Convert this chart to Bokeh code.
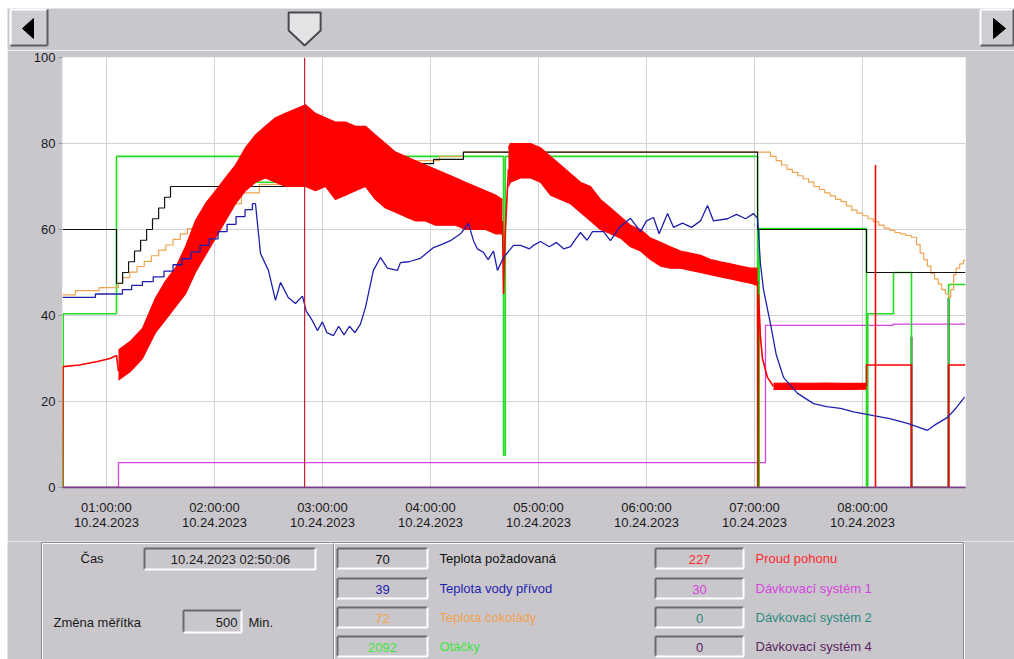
from bokeh.plotting import figure
from bokeh.layouts import column, row
from bokeh.models import Range1d, FixedTicker, Span, Spacer, ColumnDataSource
from bokeh.core.properties import value
from bokeh.embed import file_html
from bokeh.resources import INLINE

FONT = "Liberation Sans"
BG = "#c9c7cc"

# ---------------- data (time in minutes after midnight, values in % of scale) ----------------
x_start, x_end = 35.6, 537.2
tick_minutes = [60, 120, 180, 240, 300, 360, 420, 480]
tick_times = ["01:00:00", "02:00:00", "03:00:00", "04:00:00", "05:00:00", "06:00:00", "07:00:00", "08:00:00"]
tick_date = "10.24.2023"
y_ticks = [0, 20, 40, 60, 80, 100]
cursor_minute = 170.1
cursor_text = "10.24.2023 02:50:06"
scale_text = "500"

# Teplota požadovaná (step)
setpoint_t = [35.6, 65.6, 69.0, 72.3, 75.6, 79.0, 82.3, 85.6, 89.0, 92.3, 95.6, 201.1, 207.0, 227.2, 241.7, 258.3, 421.7, 482.2, 537.2]
setpoint_v = [60, 47.5, 50, 52.5, 55, 57.5, 60, 62.5, 65, 67.5, 70, 72, 73, 75.3, 76.3, 78, 60, 50, 50]

# Teplota vody přívod: staircase part (step) + free part (line)
water_ramp_t = [35.6, 53.9, 68.9, 74, 80, 86, 92, 97, 102, 107, 112, 117, 122, 127, 132, 137, 141.1, 142.8]
water_ramp_v = [44.2, 45, 46.0, 47.0, 47.9, 49.0, 50.3, 51.8, 53.2, 54.8, 56.3, 57.8, 59.5, 61.2, 63.0, 64.6, 66.0, 66.0]
water_t = [142.8, 145.6, 150, 153.9, 156.7, 161, 165, 168.9, 171, 174.4, 177.2, 180, 182.5, 186.1, 189, 192, 195, 198,
           201.1, 203.9, 208.3, 212.2, 216.1, 221.7, 223.3, 228, 234.4, 241.7, 246, 251.1, 256.7, 261.1, 263.9, 266,
           269.4, 272, 275, 277.2, 280.6, 286.1, 290, 295, 297.2, 301.1, 306, 310, 314, 317.8, 321, 323.3, 327, 330,
           336.1, 340, 345, 351.1, 356.7, 360, 363.9, 367, 371.7, 375, 380, 385, 390, 393.9, 397.2, 405, 410, 415,
           419.4, 421.7, 423.3, 425, 428.9, 432, 436.1, 443.9, 452.8, 460, 467.8, 475, 486.1, 495, 505, 516.1, 520,
           527.2, 532, 536.7]
water_v = [66.0, 54.4, 50.5, 43.5, 47.7, 44.2, 42.8, 44.5, 41, 38.8, 36.5, 38.5, 36, 35.3, 37.5, 35.5, 37.5, 36,
           38, 41.9, 50.5, 53.5, 51, 50.5, 52.3, 52.5, 53.3, 55.8, 56.5, 57.4, 59, 61.4, 57.4, 55.5,
           54.7, 53, 55, 50.5, 53.5, 56.3, 56.3, 55.5, 56.3, 57.2, 56, 57, 55.5, 56, 58, 59.3, 57.5, 59.5,
           59.5, 57.4, 60.5, 62.6, 59.5, 62, 62.8, 59, 63.7, 60.5, 61.5, 60.5, 62, 65.6, 62, 62.5, 63.5, 62.5,
           63.7, 62.6, 52, 46, 38, 31, 25.6, 21.9, 19.5, 18.8, 18.4, 17.6, 16.7, 16, 14.9, 13.3, 14.5,
           16.3, 18.5, 21]

# Teplota čokolády (step)
choco_t = [35.6, 42.8, 56, 66.7, 68.9, 73, 77, 81, 85, 89, 93, 97, 101, 105, 109, 113, 117, 125, 135, 145, 160,
           201, 215, 230, 245, 258.3, 428.9, 432, 435, 438, 441, 444, 447, 450, 453, 456, 459, 462, 465, 468, 471,
           474, 477, 480, 483, 486, 489, 492, 495, 498, 501, 504, 507, 510, 512, 514, 516, 518, 520, 522, 524, 526,
           527.8, 529, 530.6, 532, 534, 536, 537.2]
choco_v = [44.8, 45.8, 46.5, 47.5, 48.8, 50.1, 51.4, 52.6, 53.9, 55.2, 56.4, 57.7, 59, 60.2, 61.5, 62.8, 64, 66,
           68.5, 70.5, 71.5, 72, 74, 76, 77, 78, 77, 76, 75, 74, 73.3, 72.5, 71.8, 71, 70, 69.3, 68.5, 67.8, 67,
           66.5, 65.5, 64.5, 63.8, 63.2, 62.5, 61.8, 61, 60.3, 59.8, 59.3, 59, 58.6, 58.2, 56.5, 54.5, 53, 51.5,
           49.8, 48.5, 47.3, 46, 45, 44.2, 46, 49.5, 51, 52, 52.8, 52.8]

# Otáčky (step)
speed_t = [35.6, 36.0, 65.6, 141.1, 219.0, 280.6, 281.6, 421.7, 422.6, 482.2, 482.9, 497.2, 507.2, 527.8, 537.2]
speed_v = [0, 40.4, 77, 71, 77, 7.5, 77, 0, 60.2, 0, 40.4, 50, 0, 47.2, 47.2]

# Proud pohonu: quiet parts as lines, noisy parts as low/high envelopes
current_a_t = [35.6, 35.9, 45, 55, 62, 65.6, 66.7]
current_a_v = [0, 28.1, 28.5, 29.3, 30, 30.7, 27]
band1_t = [66.7, 73.3, 80.0, 87.2, 92.8, 98.3, 103.9, 109.4, 115.0, 120.6, 126.1, 131.7, 137.2, 142.8, 148.3,
           153.9, 159.4, 165.0, 170.6, 176.1, 181.7, 187.2, 192.8, 198.3, 203.9, 209.4, 215.0, 220.6, 226.1,
           231.7, 237.2, 242.8, 248.3, 253.9, 259.4, 265.0, 270.6, 276.1, 280.0]
band1_lo = [25, 27, 30, 36, 39, 42, 45, 50, 54, 58, 62, 66, 69, 71, 72, 71, 70, 70, 70, 69, 70, 67, 68, 69, 70,
            67, 65, 64, 63, 62, 62, 61, 61, 61, 60, 60, 60, 59, 59]
band1_hi = [32, 34, 37, 44, 48, 51, 56, 62, 66, 69, 72, 75, 79, 82, 84, 86, 87, 88, 89, 87, 86, 85, 85, 84, 84,
            82, 80, 78, 77, 76, 75, 74, 73, 72, 71, 70, 69, 68, 67]
current_b_t = [280.0, 280.6, 281.4, 283.3]
current_b_v = [62, 45, 58, 74]
band2_t = [283.3, 284.4, 290, 295.6, 301.1, 306.7, 312.2, 317.8, 323.3, 328.9, 334.4, 340, 345.6, 351.1, 356.7,
           362.2, 367.8, 373.3, 378.9, 384.4, 390, 395.6, 401.1, 406.7, 412.2, 417.8, 421.7]
band2_lo = [70, 71, 72, 72, 71, 68, 67, 66, 64, 62, 60, 59, 58, 56, 55, 53, 51.5, 51, 51, 50.5, 50, 49.5, 49,
            48.5, 48, 47.5, 47]
band2_hi = [79, 80, 80, 80, 79, 77, 75, 73, 71, 70, 67, 65, 63, 61, 60, 58, 57, 56, 55, 54.5, 54, 53, 52.5, 52,
            51.5, 51, 51]
current_c_t = [421.7, 421.9, 422.2, 423.3, 424.4, 427.2, 430.6]
current_c_v = [48, 0, 45, 35, 30, 25.6, 23.5]
band3_t = [430.6, 440, 450, 460, 470, 482.2]
band3_lo = [22.8, 22.9, 22.8, 22.9, 22.8, 22.9]
band3_hi = [24.2, 24.3, 24.2, 24.3, 24.2, 24.2]
current_d_t = [482.2, 482.2, 487.2, 487.2, 487.2, 487.2, 507.2, 507.2, 527.8, 527.8, 537.2]
current_d_v = [23.5, 28.5, 28.5, 0, 75, 28.5, 28.5, 0, 0, 28.5, 28.5]

# Dávkovací systém 1 / 2 / 4 (step)
dose1_t = [35.6, 66.7, 426.1, 497.0, 537.2]
dose1_v = [0, 5.8, 37.7, 38, 38]
dose2_t = [35.6, 537.2]
dose2_v = [0, 0]
dose4_t = [35.6, 507.0, 507.4, 527.6, 528.0, 537.2]
dose4_v = [0, 35, 0, 44, 0, 0]

series_names = ["Teplota požadovaná", "Teplota vody přívod", "Teplota čokolády", "Otáčky",
                "Proud pohonu", "Dávkovací systém 1", "Dávkovací systém 2", "Dávkovací systém 4"]
series_now = ["70", "39", "72", "2092", "227", "30", "0", "0"]

# ---------------- styles ----------------
C_SET = "#111111"
C_WATER = "#1f1fae"
C_CHOCO = "#f0a24e"
C_SPEED = "#22dd22"
C_CUR = "#ff0000"
C_D1 = "#d444dc"
C_D2 = "#2a8a80"
C_D4 = "#5a1e5e"
series_colors = [C_SET, C_WATER, C_CHOCO, "#3ee43e", "#ff2a2a", C_D1, C_D2, C_D4]

OFF_X, OFF_Y = 7, 8              # white page margin (left, top)
FR_L, FR_R, FR_T, FR_B = 62, 965, 57, 487   # plotting frame on the page
TOP_END, BOT_START = 50, 541     # page rows: top strip / chart / bottom panel

# ---------------- main chart ----------------
p = figure(width=1014 - OFF_X, height=BOT_START - TOP_END,
           x_range=Range1d(x_start, x_end), y_range=Range1d(0, 100),
           output_backend="svg", toolbar_location=None,
           min_border_left=FR_L - OFF_X, min_border_right=1014 - FR_R,
           min_border_top=FR_T - TOP_END, min_border_bottom=BOT_START - FR_B,
           background_fill_color="white", border_fill_color=BG, outline_line_color=None)

p.xaxis.ticker = FixedTicker(ticks=tick_minutes)
p.xaxis.major_label_overrides = {m: f"{t}\n{tick_date}" for m, t in zip(tick_minutes, tick_times)}
p.xaxis.major_tick_out = 0
p.xaxis.major_tick_in = 0
p.xaxis.minor_tick_out = 0
p.xaxis.minor_tick_in = 0
p.xaxis.major_label_standoff = 12
p.xaxis.major_label_text_line_height = 1.05
p.xaxis.axis_line_color = "#7a3f86"
p.xaxis.axis_line_width = 1.5
p.yaxis.ticker = FixedTicker(ticks=y_ticks)
p.yaxis.major_tick_out = 4
p.yaxis.major_tick_in = 0
p.yaxis.minor_tick_out = 0
p.yaxis.minor_tick_in = 0
p.yaxis.major_tick_line_color = "#9a9a9a"
p.yaxis.axis_line_color = None
p.yaxis.major_label_standoff = 3
for ax in (p.xaxis, p.yaxis):
    ax.major_label_text_font = FONT
    ax.major_label_text_font_size = "13px"
    ax.major_label_text_color = "#1a1a1a"
p.xgrid.ticker = FixedTicker(ticks=tick_minutes)
p.ygrid.ticker = FixedTicker(ticks=[20, 40, 60, 80, 100])
p.grid.grid_line_color = "#d2d2d2"
p.grid.grid_line_width = 1

p.step(dose2_t, dose2_v, mode="after", line_color=C_D2, line_width=1.2)
p.step(dose1_t, dose1_v, mode="after", line_color=C_D1, line_width=1.3)
p.step(dose4_t, dose4_v, mode="after", line_color=C_D4, line_width=1.3)
p.step(speed_t, speed_v, mode="after", line_color=C_SPEED, line_width=1.6)
p.step(choco_t, choco_v, mode="after", line_color=C_CHOCO, line_width=1.2)
p.step(setpoint_t, setpoint_v, mode="after", line_color=C_SET, line_width=1.2)

for bt, blo, bhi in ((band1_t, band1_lo, band1_hi), (band2_t, band2_lo, band2_hi), (band3_t, band3_lo, band3_hi)):
    p.varea(x=bt, y1=blo, y2=bhi, fill_color=C_CUR, fill_alpha=1.0)
    p.line(bt, blo, line_color=C_CUR, line_width=1.2)
    p.line(bt, bhi, line_color=C_CUR, line_width=1.2)
for lt, lv in ((current_a_t, current_a_v), (current_b_t, current_b_v), (current_c_t, current_c_v), (current_d_t, current_d_v)):
    p.line(lt, lv, line_color=C_CUR, line_width=1.6)

p.step(water_ramp_t, water_ramp_v, mode="after", line_color=C_WATER, line_width=1.3)
p.line(water_t, water_v, line_color=C_WATER, line_width=1.3)

p.add_layout(Span(location=cursor_minute, dimension="height", line_color="#c02030", line_width=1.2))


# ---------------- helpers for the window chrome (separate canvases in page pixels) ----------------
def chrome_figure(y_top, y_bottom):
    f = figure(width=1014 - OFF_X, height=y_bottom - y_top,
               x_range=Range1d(OFF_X, 1014), y_range=Range1d(y_bottom, y_top),
               output_backend="svg", toolbar_location=None, min_border=0,
               min_border_left=0, min_border_right=0, min_border_top=0, min_border_bottom=0,
               x_axis_location=None, y_axis_location=None,
               background_fill_color=BG, border_fill_color=BG, outline_line_color=None)
    f.grid.visible = False
    return f


def seg(f, xs0, ys0, xs1, ys1, color, lw=1.0):
    f.segment(x0=xs0, y0=ys0, x1=xs1, y1=ys1, line_color=color, line_width=lw)


def raised(f, x0, y0, x1, y1):
    f.quad(left=x0, right=x1, top=y0, bottom=y1, fill_color="#cfcdd2", line_color=None)
    seg(f, [x0, x0], [y0, y0], [x1, x0], [y0, y1], "white", 2)
    seg(f, [x0, x1], [y1, y0], [x1, x1], [y1, y1], "#5e5e62", 2)


def sunken(f, x0, y0, x1, y1):
    f.quad(left=x0, right=x1, top=y0, bottom=y1, fill_color=BG, line_color=None)
    seg(f, [x0, x0], [y0, y0], [x1, x0], [y0, y1], "#6a6a6e", 2)
    seg(f, [x0, x1], [y1, y0], [x1, x1], [y1, y1], "white", 2)


# ---------------- top strip: scroll buttons and cursor thumb ----------------
top = chrome_figure(OFF_Y, TOP_END)
raised(top, 10, 9, 47, 45)
top.patch([22, 33, 33], [28, 18, 38], fill_color="black", line_color="black")
raised(top, 980, 9, 1013, 45)
top.patch([1005, 993, 993], [28, 18, 38], fill_color="black", line_color="black")
cx = FR_L + (cursor_minute - x_start) / (x_end - x_start) * (FR_R - FR_L)
top.patch([cx - 16, cx + 16, cx + 16, cx, cx - 16], [12, 12, 30, 45, 30],
          fill_color="#e4e3e6", line_color="#4a4a4e", line_width=2)

# ---------------- bottom panel ----------------
bot = chrome_figure(BOT_START, 659)
seg(bot, [41, 41, 963], [542, 542, 542], [963, 41, 963], [542, 660, 660], "#8a888e")
seg(bot, [42, 42, 964], [543, 543, 543], [962, 42, 964], [543, 660, 660], "white")
seg(bot, [333], [543], [333], [660], "#8a888e")
seg(bot, [334], [543], [334], [660], "white")
sunken(bot, 144, 548, 315, 569)
sunken(bot, 183, 610, 241, 632)

txt = dict(x=[], y=[], text=[], color=[], align=[])


def add_text(x, y, s, color="#1a1a1a", align="left"):
    txt["x"].append(x); txt["y"].append(y); txt["text"].append(s)
    txt["color"].append(color); txt["align"].append(align)


add_text(80, 558, "Čas")
add_text(230, 559, cursor_text, align="center")
add_text(53, 622, "Změna měřítka")
add_text(237, 622, scale_text, align="right")
add_text(248, 622, "Min.")

row_tops = [548, 578, 607, 636]
for i, (name, now, colr) in enumerate(zip(series_names, series_now, series_colors)):
    c, r = divmod(i, 4)
    bx0, bx1 = (337, 427) if c == 0 else (655, 743)
    lx = 439 if c == 0 else 755
    y0 = row_tops[r]
    sunken(bot, bx0, y0, bx1, y0 + 20)
    add_text((bx0 + bx1) / 2, y0 + 11, now, colr, "center")
    add_text(lx, y0 + 10, name, colr, "left")

bot.text(x="x", y="y", text="text", text_color="color", text_align="align", source=ColumnDataSource(txt),
         text_font=value(FONT), text_font_size="13px", text_baseline="middle")

# three independent page blocks, so each canvas keeps its own frame geometry
root_top = column(Spacer(width=1014, height=OFF_Y),
                  row(Spacer(width=OFF_X, height=TOP_END - OFF_Y), top, spacing=0), spacing=0)
root_main = row(Spacer(width=OFF_X, height=BOT_START - TOP_END), p, spacing=0)
root_bot = row(Spacer(width=OFF_X, height=659 - BOT_START), bot, spacing=0)

open("out.html", "w").write(file_html([root_top, root_main, root_bot], INLINE))
